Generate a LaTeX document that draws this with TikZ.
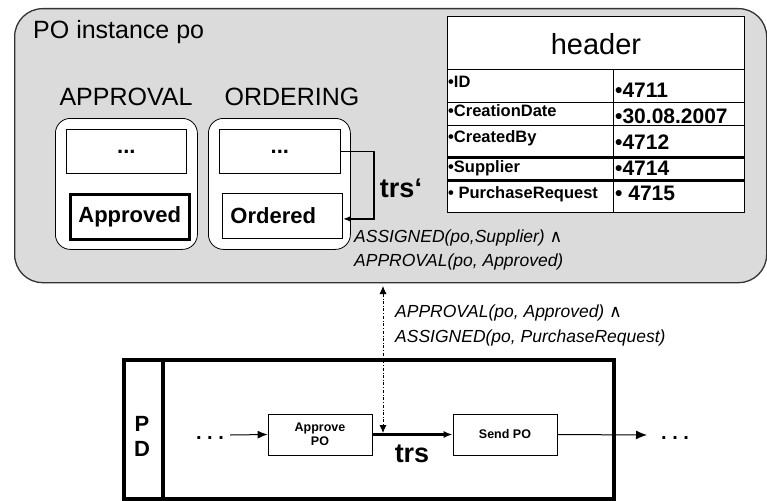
\documentclass[tikz,border=0pt]{standalone}
\usepackage{fontspec}
\setmainfont{Liberation Sans}
\newfontfamily\symbolfont{DejaVu Sans}
\usepackage{tikz}
\usetikzlibrary{
    arrows.meta,
    positioning
}
\newcommand{\pxsize}[1]{\fontsize{#1}{#1}\selectfont}
\newcommand{\andsym}{{\symbolfont\upshape ∧}}
\tikzset{
    flow/.style={-{Latex[length=9pt,width=7pt]}, line width=1pt},
    every node/.append style={inner sep=0pt}
}

\begin{document}
\begin{tikzpicture}[x=1pt, y=-1pt,
            instance/.style={draw=black!80, line width=1.3pt, fill=black!14, rounded corners=28pt, anchor=north west},
            lane/.style={draw, line width=0.8pt, fill=white, rounded corners=15pt, anchor=north west, minimum width=142, minimum height=131},
            state/.style={draw, line width=0.8pt, fill=white, anchor=north west, minimum width=120, minimum height=44, font=\bfseries\pxsize{22}},
            lane label/.style={font=\pxsize{25}},
            cond/.style={anchor=west, font=\itshape\pxsize{17.5}},
            cell/.style={draw, line width=1pt, fill=white},
            cell label/.style={anchor=base west, font=\bfseries\pxsize{16.5}},
            cell value/.style={anchor=base west, font=\bfseries\pxsize{21}},
            activity/.style={draw, line width=0.8pt, fill=white, minimum width=104, minimum height=41, align=center, font=\bfseries\pxsize{12.5}},
            dots/.style={font=\bfseries\pxsize{20}}
        ]
        \useasboundingbox (0,0) rectangle (767,500);

        % PO instance
        \node[instance, minimum width=752, minimum height=274] (po) at (14,8) {};
        \node[lane label, anchor=west] (poname) at (33,32) {PO instance po};

        \node[lane label] (approvalname) at (126,97) {APPROVAL};
        \node[lane label] (orderingname) at (292,97) {ORDERING};

        \node[lane] (approval) at (55,118) {};
        \node[lane] (ordering) at (208,118) {};

        \node[state] (app1) at (66,129) {...};
        \node[state, line width=2.5pt, minimum width=119, minimum height=45] (app2) at (69,193) {Approved};
        \node[state, minimum width=121] (ord1) at (219,129) {...};
        \node[state, minimum width=120, minimum height=45, text width=104] (ord2) at (222,193) {Ordered};

        \draw[-{Latex[length=8pt,width=6pt]}, line width=1.6pt] (ord1.east) -- ++(33,0) |- ([yshift=-3pt]ord2.east);
        \node[font=\bfseries\pxsize{27}] (trsp) at (401,188) {trs‘};

        \node[cond] (cond1) at (354,238) {ASSIGNED(po,Supplier) \andsym};
        \node[cond] (cond2) at (354,262) {APPROVAL(po, Approved)};

        % header table
        \node[cell, anchor=north west, minimum width=297, minimum height=55, font=\pxsize{29}] (hdr) at (447,16) {header};
        \foreach \lab/\val/\top/\bot/\ly/\vy [count=\i] in {
                •ID/•4711/70/103/88/98,
                •CreationDate/•30.08.2007/103/125/117/123.5,
                •CreatedBy/•4712/125/157/142.5/149,
                •Supplier/•4714/157/180/172/175,
                • PurchaseRequest/• 4715/180/212/198/200} {
            \draw[cell] (447,\top) rectangle (613,\bot);
            \draw[cell] (613,\top) rectangle (744,\bot);
            \node[cell label] (lab\i) at (448,\ly) {\lab};
            \node[cell value] (val\i) at (615,\vy) {\val};
        }
        \draw[line width=3pt] (447,157) -- (744,157);
        \draw[line width=3pt] (447,180) -- (744,180);

        % process definition
        \node[draw, line width=3.5pt, anchor=north west, minimum width=490, minimum height=139] (pdbox) at (122,358) {};
        \draw[line width=3.5pt] (163,358) -- (163,497);
        \node[font=\bfseries\pxsize{22}, align=center] (pd) at (142,436) {P\\[3pt]D};

        \node[dots] (din) at (210,438) {.\ .\ .};
        \node[activity] (approve) at (320,434.5) {Approve\\[1pt]PO};
        \node[activity] (send) at (505,434.5) {Send PO};
        \node[dots, anchor=west] (dout) at (661,438) {.\ .\ .};

        \draw[flow, -{Latex[length=10pt,width=8pt]}] (din.east) ++(6,-3) -- (approve.west);
        \draw[flow, line width=2.5pt] (approve) -- (send);
        \draw[flow, -{Latex[length=11pt,width=9pt]}] (send.east) -- ([xshift=-14pt, yshift=3pt]dout.west);
        \node[font=\bfseries\pxsize{27}] (trs) at (412,454) {trs};

        % link between instance and definition
        \coordinate (tap) at (383,433);
        \coordinate (link) at (383,286);
        \draw[dashdotted, line width=0.8pt, {Latex[length=8pt,width=7pt]}-{Latex[length=8pt,width=7pt]}] (link) -- (tap);
        \node[cond] (cond3) at (395,313) {APPROVAL(po, Approved) \andsym};
        \node[cond] (cond4) at (395,338) {ASSIGNED(po, PurchaseRequest)};
    \end{tikzpicture}
\end{document}
